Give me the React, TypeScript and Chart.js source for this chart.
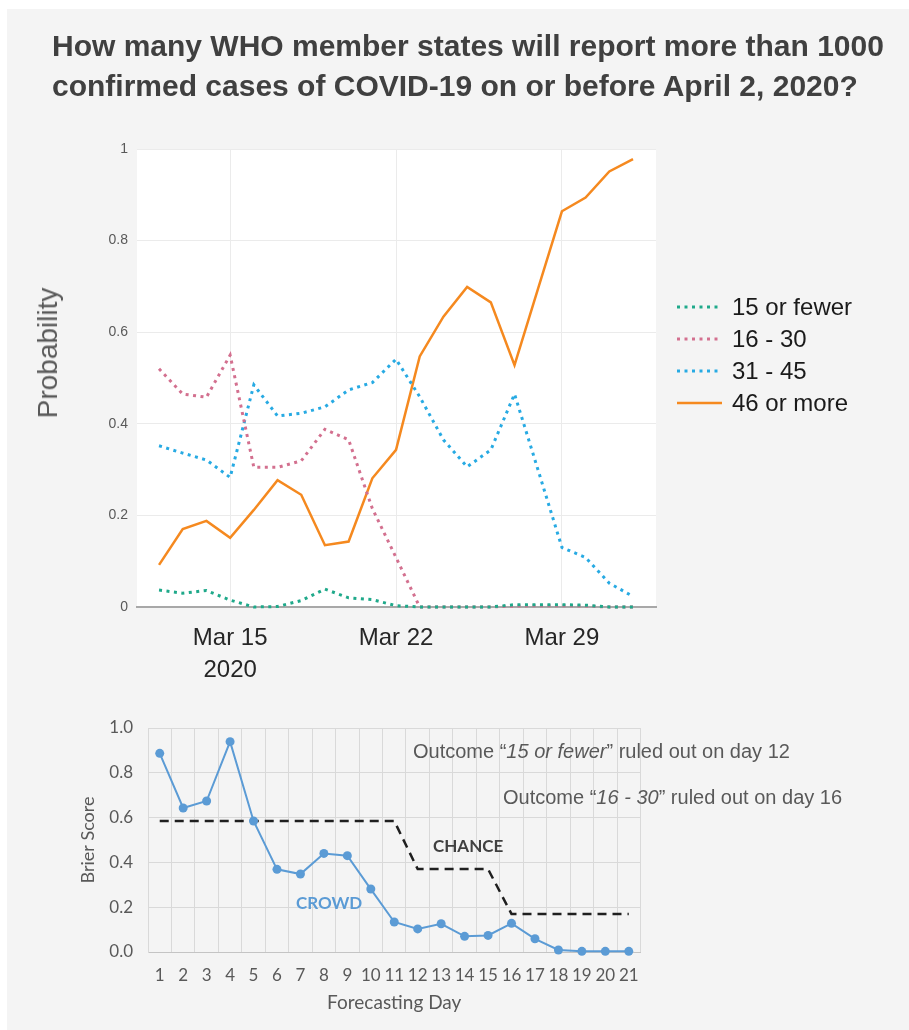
import React, { useEffect, useRef } from 'react';
import { Chart, registerables } from 'chart.js';

Chart.register(...registerables);

// ---------- Top chart data ----------
const dates = [
  '2020-03-12', '2020-03-13', '2020-03-14', '2020-03-15', '2020-03-16', '2020-03-17', '2020-03-18',
  '2020-03-19', '2020-03-20', '2020-03-21', '2020-03-22', '2020-03-23', '2020-03-24', '2020-03-25',
  '2020-03-26', '2020-03-27', '2020-03-28', '2020-03-29', '2020-03-30', '2020-03-31', '2020-04-01',
];
const tickDates = ['2020-03-15', '2020-03-22', '2020-03-29'];
const tickLabels: (string | string[])[] = [['Mar 15', '2020'], 'Mar 22', 'Mar 29'];
const seriesNames = ['15 or fewer', '16 - 30', '31 - 45', '46 or more'];
const p15OrFewer = [0.037, 0.030, 0.036, 0.015, 0.000, 0.001, 0.014, 0.039, 0.020, 0.016, 0.003, 0, 0, 0, 0, 0.005, 0.005, 0.005, 0.004, 0, 0];
const p16To30 = [0.520, 0.465, 0.458, 0.550, 0.305, 0.305, 0.319, 0.388, 0.365, 0.215, 0.108, 0, 0, 0, 0, 0.002, 0.003, 0.003, 0.002, 0, 0];
const p31To45 = [0.352, 0.336, 0.321, 0.283, 0.485, 0.417, 0.423, 0.437, 0.474, 0.490, 0.541, 0.459, 0.365, 0.306, 0.343, 0.465, 0.298, 0.130, 0.108, 0.052, 0.023];
const p46OrMore = [0.092, 0.170, 0.188, 0.151, 0.212, 0.277, 0.245, 0.135, 0.143, 0.281, 0.343, 0.547, 0.634, 0.699, 0.665, 0.528, 0.696, 0.864, 0.894, 0.951, 0.978];
const probTickLabels = ['0', '0.2', '0.4', '0.6', '0.8', '1'];

// ---------- Bottom chart data ----------
const forecastDays = ['1', '2', '3', '4', '5', '6', '7', '8', '9', '10', '11', '12', '13', '14', '15', '16', '17', '18', '19', '20', '21'];
const crowdBrier = [0.887, 0.643, 0.674, 0.939, 0.585, 0.369, 0.348, 0.440, 0.430, 0.281, 0.134, 0.103, 0.126, 0.070, 0.074, 0.128, 0.059, 0.009, 0.003, 0.003, 0.003];
const chanceBrier = [0.585, 0.585, 0.585, 0.585, 0.585, 0.585, 0.585, 0.585, 0.585, 0.585, 0.585, 0.37, 0.37, 0.37, 0.37, 0.17, 0.17, 0.17, 0.17, 0.17, 0.17];
const brierTickLabels = ['0.0', '0.2', '0.4', '0.6', '0.8', '1.0'];

const DAY_MS = 86400000;
const t0 = Date.parse(dates[0]);
const dayOf = (d: string) => (Date.parse(d) - t0) / DAY_MS;

const ARIAL = '"Liberation Sans", Arial, sans-serif';
const LATO = 'Lato, "Open Sans", sans-serif';

const seriesStyles = [
  { color: '#1fa98a', dash: [3, 4.5], width: 3 },
  { color: '#d3708f', dash: [3, 4.5], width: 3 },
  { color: '#27aae3', dash: [3, 4.5], width: 3 },
  { color: '#f5891f', dash: [], width: 2.5 },
];

const plotBg = {
  id: 'plotBg',
  beforeDraw(chart: any) {
    const { ctx, chartArea } = chart;
    ctx.save();
    ctx.fillStyle = '#ffffff';
    ctx.fillRect(chartArea.left, chartArea.top, chartArea.width, chartArea.height);
    ctx.restore();
  },
};

const seriesKey = {
  id: 'seriesKey',
  afterDraw(chart: any) {
    const { ctx, chartArea } = chart;
    ctx.save();
    chart.data.datasets.forEach((ds: any, i: number) => {
      const y = chartArea.top + 158 + i * 32;
      const x0 = chartArea.right + 21;
      ctx.beginPath();
      ctx.setLineDash(ds.borderDash || []);
      ctx.lineWidth = ds.borderWidth;
      ctx.strokeStyle = ds.borderColor;
      ctx.moveTo(x0, y);
      ctx.lineTo(x0 + 45, y);
      ctx.stroke();
      ctx.setLineDash([]);
      ctx.fillStyle = '#1a1a1a';
      ctx.font = `24px ${ARIAL}`;
      ctx.textBaseline = 'middle';
      ctx.textAlign = 'left';
      ctx.fillText(ds.label, x0 + 55, y + 1);
    });
    ctx.restore();
  },
};

function TopChart() {
  const ref = useRef<HTMLCanvasElement>(null);
  useEffect(() => {
    const values = [p15OrFewer, p16To30, p31To45, p46OrMore];
    const chart = new Chart(ref.current!, {
      type: 'line',
      data: {
        datasets: values.map((vals, k) => ({
          label: seriesNames[k],
          data: vals.map((v, i) => ({ x: dayOf(dates[i]), y: v })),
          borderColor: seriesStyles[k].color,
          borderDash: seriesStyles[k].dash,
          borderWidth: seriesStyles[k].width,
          pointRadius: 0,
          fill: false,
          tension: 0,
          clip: 6,
        })),
      },
      options: {
        animation: false,
        responsive: false,
        devicePixelRatio: 1,
        layout: { padding: { left: 0, top: 49, right: 253, bottom: 0 } },
        plugins: { legend: { display: false }, tooltip: { enabled: false }, title: { display: false } },
        scales: {
          x: {
            type: 'linear',
            min: -0.93,
            max: 20.97,
            afterBuildTicks: (s: any) => {
              s.ticks = tickDates.map((d) => ({ value: dayOf(d) }));
            },
            afterFit: (s: any) => {
              s.height = 93;
            },
            grid: { color: '#ebebeb', drawTicks: false, lineWidth: 1 },
            border: { display: true, color: '#a8a8a8', width: 2 },
            ticks: {
              autoSkip: false,
              maxRotation: 0,
              padding: 15,
              color: '#262626',
              font: { family: ARIAL, size: 24, lineHeight: 1.333 },
              callback: (_v: any, i: number) => tickLabels[i],
            },
          },
          y: {
            min: 0,
            max: 1,
            afterFit: (s: any) => {
              s.width = 130;
            },
            grid: { color: '#ebebeb', drawTicks: false },
            border: { display: false },
            ticks: {
              stepSize: 0.2,
              padding: 9,
              color: '#595959',
              font: { family: ARIAL, size: 14 },
              callback: (_v: any, i: number) => probTickLabels[i],
            },
          },
        },
      },
      plugins: [plotBg, seriesKey],
    } as any);
    return () => chart.destroy();
  }, []);
  return (
    <canvas
      ref={ref}
      width={902}
      height={600}
      style={{ position: 'absolute', left: 7, top: 100, width: 902, height: 600 }}
    />
  );
}

function BottomChart() {
  const ref = useRef<HTMLCanvasElement>(null);
  useEffect(() => {
    const chart = new Chart(ref.current!, {
      type: 'line',
      data: {
        labels: forecastDays,
        datasets: [
          {
            label: 'CROWD',
            data: crowdBrier,
            borderColor: '#5b9bd5',
            backgroundColor: '#5b9bd5',
            borderWidth: 2,
            pointRadius: 4.5,
            pointBorderWidth: 0,
            pointBackgroundColor: '#5b9bd5',
            tension: 0,
            clip: 8,
          },
          {
            label: 'CHANCE',
            data: chanceBrier,
            borderColor: '#1f1f1f',
            borderWidth: 2.5,
            borderDash: [9, 6],
            pointRadius: 0,
            tension: 0,
          },
        ],
      },
      options: {
        animation: false,
        responsive: false,
        devicePixelRatio: 1,
        layout: { padding: { left: 0, top: 28, right: 268.5, bottom: 0 } },
        plugins: { legend: { display: false }, tooltip: { enabled: false } },
        scales: {
          x: {
            type: 'category',
            offset: true,
            afterFit: (s: any) => {
              s.height = 78;
            },
            grid: { color: '#d9d9d9', drawTicks: false, offset: true },
            border: { display: true, color: '#c4c4c4', width: 1 },
            ticks: {
              autoSkip: false,
              maxRotation: 0,
              padding: 13,
              color: '#595959',
              font: { family: LATO, size: 17 },
            },
            title: {
              display: true,
              text: 'Forecasting Day',
              color: '#595959',
              font: { family: LATO, size: 19 },
              padding: { top: 0, bottom: 15.6 },
            },
          },
          y: {
            min: 0,
            max: 1,
            afterFit: (s: any) => {
              s.width = 141;
            },
            grid: { color: '#d9d9d9', drawTicks: false },
            border: { display: true, color: '#d9d9d9', width: 1 },
            ticks: {
              stepSize: 0.2,
              padding: 15,
              color: '#595959',
              font: { family: LATO, size: 17 },
              callback: (_v: any, i: number) => brierTickLabels[i],
            },
            title: {
              display: true,
              text: 'Brier Score',
              color: '#595959',
              font: { family: LATO, size: 18 },
              padding: { top: 70, bottom: 0 },
            },
          },
        },
      },
    } as any);
    return () => chart.destroy();
  }, []);
  return (
    <canvas
      ref={ref}
      width={902}
      height={330}
      style={{ position: 'absolute', left: 7, top: 700, width: 902, height: 330 }}
    />
  );
}

const abs = (s: React.CSSProperties): React.CSSProperties => ({ position: 'absolute', whiteSpace: 'nowrap', margin: 0, ...s });

export default function App() {
  return (
    <div style={{ position: 'absolute', left: 0, top: 0, width: 909, height: 1030, background: '#ffffff', overflow: 'hidden' }}>
      <div style={{ position: 'absolute', left: 7, top: 9, width: 902, height: 1021, background: '#f4f4f4' }} />
      <TopChart />
      <BottomChart />
      <div
        style={abs({
          left: 52,
          top: 26,
          fontFamily: ARIAL,
          fontWeight: 'bold',
          fontSize: 30,
          lineHeight: '40px',
          color: '#404040',
        })}
      >
        How many WHO member states will report more than 1000
        <br />
        confirmed cases of COVID-19 on or before April 2, 2020?
      </div>
      <div
        style={abs({
          left: 48,
          top: 353,
          transform: 'translate(-50%, -50%) rotate(-90deg)',
          fontFamily: ARIAL,
          fontSize: 28,
          lineHeight: '32px',
          color: '#595959',
        })}
      >
        Probability
      </div>
      <div style={abs({ left: 413, top: 739, fontFamily: ARIAL, fontSize: 20, lineHeight: '24px', color: '#595959' })}>
        Outcome “<i>15 or fewer</i>” ruled out on day 12
      </div>
      <div style={abs({ left: 503, top: 785, fontFamily: ARIAL, fontSize: 20, lineHeight: '24px', color: '#595959' })}>
        Outcome “<i>16 - 30</i>” ruled out on day 16
      </div>
      <div style={abs({ left: 433, top: 836, fontFamily: LATO, fontWeight: 'bold', fontSize: 17, lineHeight: '20px', color: '#404040' })}>
        CHANCE
      </div>
      <div style={abs({ left: 296, top: 893, fontFamily: LATO, fontWeight: 'bold', fontSize: 17, lineHeight: '20px', color: '#5b9bd5' })}>
        CROWD
      </div>
    </div>
  );
}
